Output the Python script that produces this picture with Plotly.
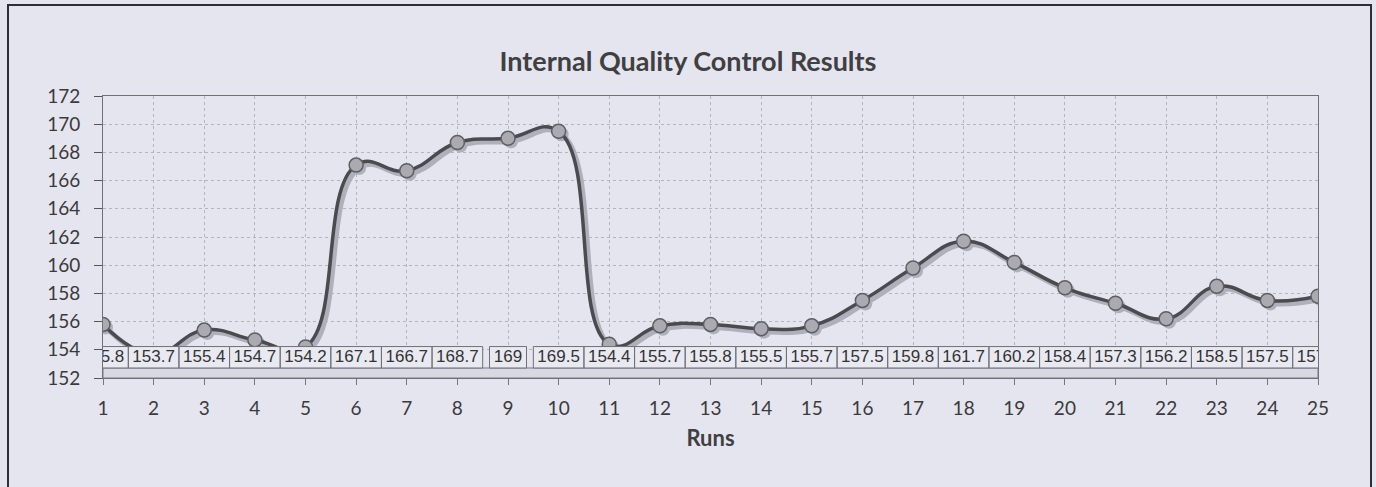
import plotly.graph_objects as go

# ---- data ----
runs = list(range(1, 26))
values = [155.8, 153.7, 155.4, 154.7, 154.2, 167.1, 166.7, 168.7, 169, 169.5,
          154.4, 155.7, 155.8, 155.5, 155.7, 157.5, 159.8, 161.7, 160.2, 158.4,
          157.3, 156.2, 158.5, 157.5, 157.8]
y_ticks = list(range(152, 174, 2))
title_text = "Internal Quality Control Results"
x_title = "Runs"
labels = [f"{v:g}" for v in values]

# ---- geometry / style ----
W, H = 1376, 487
L, R, T, B = 103, 58, 96, 109
pw, ph = W - L - R, H - T - B
xr, yr = [1, 25], [152, 172]
ppx = pw / (xr[1] - xr[0])
ppy = ph / (yr[1] - yr[0])

BG = "#e5e5f0"
box_top, box_bot = 154.23, 152.71
label_y = (box_top + box_bot) / 2

# label boxes (table-like row of data labels), sized from label length
bx, by = [], []
for r, lab in zip(runs, labels):
    hw = (6.8 * len(lab) + 16.6) / 2 / ppx
    bx += [r - hw, r + hw, r + hw, r - hw, r - hw, None]
    by += [box_bot, box_bot, box_top, box_top, box_bot, None]

# shadow offset in px
sdx, sdy = 3, 3
SMOOTH = 1.3

fig = go.Figure()

# strip under the label row (on the main axes)
fig.add_trace(go.Scatter(
    x=[xr[0], xr[1], xr[1], xr[0], xr[0]],
    y=[yr[0], yr[0], box_bot, box_bot, yr[0]],
    mode="lines", fill="toself",
    fillcolor="#d9d9e3", line=dict(color="#7a7a80", width=1),
    hoverinfo="skip", showlegend=False))

# shadow of the series (drawn on a shifted overlay axis)
fig.add_trace(go.Scatter(
    x=runs, y=values, xaxis="x2", yaxis="y2", mode="lines+markers",
    line=dict(color="#b0b0bc", width=5, shape="spline", smoothing=SMOOTH),
    marker=dict(size=14, color="#b0b0bc"),
    hoverinfo="skip", showlegend=False))

# main series
fig.add_trace(go.Scatter(
    x=runs, y=values, xaxis="x3", yaxis="y3", mode="lines+markers",
    line=dict(color="#4a4a4f", width=3.5, shape="spline", smoothing=SMOOTH),
    marker=dict(size=14, color="#aaaab0", line=dict(color="#5e5e64", width=1.5)),
    showlegend=False))

# label boxes
fig.add_trace(go.Scatter(
    x=bx, y=by, xaxis="x3", yaxis="y3", mode="lines", fill="toself",
    fillcolor="#e9e9f1", line=dict(color="#707076", width=1),
    hoverinfo="skip", showlegend=False))

# label text
fig.add_trace(go.Scatter(
    x=runs, y=[label_y] * len(runs), xaxis="x3", yaxis="y3", mode="text",
    text=labels, textposition="middle center",
    textfont=dict(family="Liberation Sans, Arial, sans-serif", size=17, color="#333333"),
    cliponaxis=True, hoverinfo="skip", showlegend=False))

tick_font = dict(family="Lato, sans-serif", size=19, color="#3a3a3a")

fig.update_layout(
    width=W, height=H,
    margin=dict(l=L, r=R, t=T, b=B),
    paper_bgcolor=BG, plot_bgcolor=BG,
    showlegend=False,
    title=dict(text=title_text, x=0.5, xref="container", xanchor="center",
               y=1 - 62 / H, yref="container", yanchor="middle",
               font=dict(family="Lato, sans-serif", size=27, color="#404040", weight="bold")),
    xaxis=dict(range=xr, tickmode="array", tickvals=runs, ticktext=[str(r) for r in runs],
               ticks="outside", ticklen=6, tickcolor="#777777", tickfont=tick_font,
               ticklabelstandoff=7,
               showgrid=True, gridcolor="#b4b4bc", griddash="dot", gridwidth=1,
               showline=True, linecolor="#707075", linewidth=1, mirror=True,
               zeroline=False,
               title=dict(text=x_title, standoff=12,
                          font=dict(family="Lato, sans-serif", size=22, color="#404040", weight="bold"))),
    yaxis=dict(range=yr, tickmode="array", tickvals=y_ticks, ticktext=[str(t) for t in y_ticks],
               ticks="outside", ticklen=8, tickcolor="#555555", tickfont=tick_font,
               ticklabelstandoff=10,
               showgrid=True, gridcolor="#b4b4bc", griddash="dot", gridwidth=1,
               showline=True, linecolor="#707075", linewidth=1, mirror=True,
               zeroline=False),
    xaxis2=dict(range=[xr[0] - sdx / ppx, xr[1] - sdx / ppx], overlaying="x", visible=False),
    yaxis2=dict(range=[yr[0] + sdy / ppy, yr[1] + sdy / ppy], overlaying="y", visible=False),
    xaxis3=dict(range=xr, overlaying="x", visible=False),
    yaxis3=dict(range=yr, overlaying="y", visible=False),
    shapes=[dict(type="rect", xref="paper", yref="paper",
                 x0=(8 - L) / pw, x1=(1371 - L) / pw,
                 y0=(T + ph - 495) / ph, y1=(T + ph - 5) / ph,
                 line=dict(color="#2e2e33", width=2), fillcolor="rgba(0,0,0,0)",
                 layer="below")],
)

fig.write_html("out.html", config={"displayModeBar": False},
               post_script="document.body.style.margin='0';")
